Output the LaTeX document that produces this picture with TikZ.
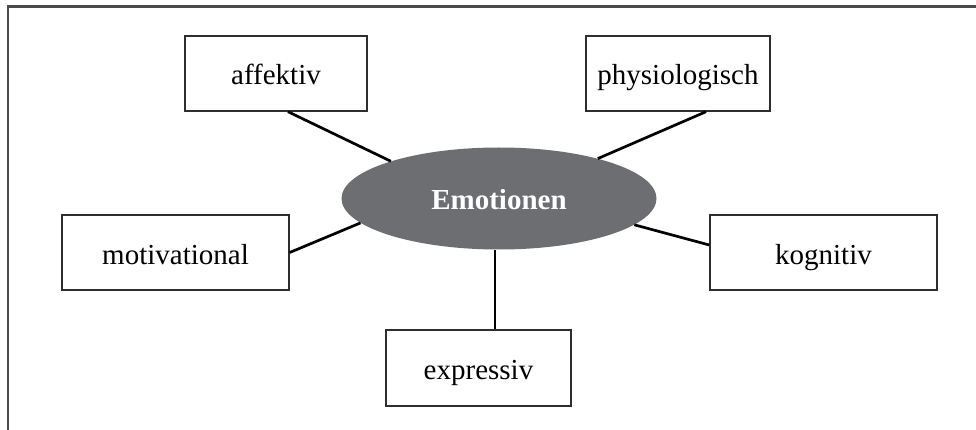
\documentclass[tikz,border=0pt]{standalone}
\usepackage{fontspec}
\setmainfont{Liberation Serif}
\usetikzlibrary{shapes.geometric}
\definecolor{emofill}{HTML}{6D6E71}
\definecolor{framecol}{HTML}{4A4A4A}
\definecolor{boxcol}{HTML}{2E2E2E}
\begin{document}
\begin{tikzpicture}[x=1pt,y=-1pt,
  every node/.style={font=\fontsize{29}{34}\selectfont, inner sep=0pt, text height=24pt, text depth=1pt},
  aspect/.style={draw=boxcol, line width=1.4pt, rectangle, minimum height=75pt},
  link/.style={draw=black, line width=2.7pt},
  centre/.style={ellipse, fill=emofill, text=white, font=\fontsize{29}{34}\selectfont\bfseries, minimum width=315pt, minimum height=102pt}]
\useasboundingbox (0,0) rectangle (976,430);
\draw[framecol, line width=2.2pt] (8,430) -- (8,6.5) -- (976,6.5);
\node[centre] (emo) at (499,198.5) {Emotionen};
\node[aspect, minimum width=182pt] (aff) at (276,73.5) {affektiv};
\node[aspect, minimum width=184pt] (phy) at (678,73.5) {physiologisch};
\node[aspect, minimum width=227pt] (mot) at (175.5,252.5) {motivational};
\node[aspect, minimum width=227pt] (kog) at (823.5,252.5) {kognitiv};
\node[aspect, minimum width=185pt, minimum height=76pt] (exp) at (478.5,368) {expressiv};
\draw[link] ([xshift=12pt]aff.south) -- (emo.161.5);
\draw[link] ([xshift=28pt]phy.south) -- (emo.22.5);
\draw[link] (mot.east) -- (emo.190.1);
\draw[link] ([yshift=7.5pt]kog.west) -- (emo.349.9);
\draw[link] ([xshift=16.5pt]exp.north) -- ([xshift=16.5pt]exp.north |- emo.south);
\end{tikzpicture}
\end{document}
